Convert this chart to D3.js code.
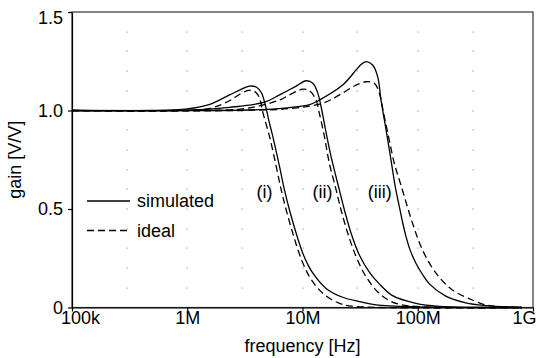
<!DOCTYPE html>
<html>
<head>
<meta charset="utf-8">
<script src="https://cdn.jsdelivr.net/npm/d3@7"></script>
<style>
  body { margin: 0; background: #fff; }
  svg { display: block; font-family: "Liberation Sans", Arial, sans-serif; }
</style>
</head>
<body>
<div id="chart"></div>
<script>
// [frequency Hz, gain V/V]
const simI = [[1e5,1.0],[4.7e5,1.0],[1.0e6,1.008],[1.57e6,1.031],[2.33e6,1.079],[3.0e6,1.11],[3.48e6,1.124],[4.0e6,1.118],[4.4e6,1.09],[4.75e6,1.03],[5.1e6,0.95],[5.53e6,0.867],[6.32e6,0.715],[6.98e6,0.596],[7.71e6,0.495],[8.81e6,0.377],[1.006e7,0.275],[1.104e7,0.222],[1.23e7,0.174],[1.6e7,0.097],[2.23e7,0.052],[3.12e7,0.03],[4.35e7,0.013],[1e8,0.003],[8e8,0]];
const idealI = [[1e5,1.0],[7e5,1.0],[1.57e6,1.011],[2.33e6,1.05],[2.9e6,1.085],[3.4e6,1.102],[3.8e6,1.098],[4.1e6,1.079],[4.35e6,1.04],[4.53e6,0.99],[5.18e6,0.867],[5.92e6,0.715],[6.54e6,0.596],[7.22e6,0.495],[8.24e6,0.377],[9.42e6,0.27],[1.15e7,0.156],[1.5e7,0.072],[2.09e7,0.021],[2.92e7,0.005],[8e8,0]];
const simII = [[1e5,1.0],[8.6e5,1.0],[2.33e6,1.016],[4.69e6,1.042],[6.32e6,1.079],[8.81e6,1.124],[1.077e7,1.151],[1.23e7,1.138],[1.36e7,1.087],[1.45e7,1.019],[1.6e7,0.89],[1.77e7,0.766],[2.09e7,0.596],[2.31e7,0.495],[2.64e7,0.377],[3.12e7,0.265],[3.8e7,0.18],[4.64e7,0.12],[6.05e7,0.06],[9.64e7,0.021],[1.53e8,0.006],[8e8,0]];
const idealII = [[1e5,1.0],[1.28e6,1.0],[3.26e6,1.011],[6.32e6,1.053],[7.71e6,1.079],[1.006e7,1.108],[1.15e7,1.1],[1.31e7,1.053],[1.4e7,0.986],[1.55e7,0.867],[1.71e7,0.732],[1.96e7,0.596],[2.16e7,0.495],[2.47e7,0.377],[2.92e7,0.258],[3.56e7,0.156],[4.49e7,0.08],[5.9e7,0.03],[8.44e7,0.008],[8e8,0]];
const simIII = [[1e5,1.0],[1.91e6,1.0],[4.85e6,1.006],[7.71e6,1.015],[1.15e7,1.03],[1.4e7,1.053],[2.23e7,1.129],[2.92e7,1.206],[3.2e7,1.232],[3.56e7,1.248],[4.06e7,1.231],[4.49e7,1.172],[4.8e7,1.053],[5.31e7,0.901],[5.86e7,0.749],[6.38e7,0.613],[6.92e7,0.512],[7.34e7,0.44],[7.91e7,0.36],[8.61e7,0.29],[9.64e7,0.225],[1.094e8,0.17],[1.26e8,0.12],[1.75e8,0.058],[2.61e8,0.024],[3.89e8,0.01],[8e8,0]];
const idealIII = [[1e5,1.0],[2.85e6,1.0],[7.71e6,1.01],[1.5e7,1.037],[2.09e7,1.079],[2.92e7,1.129],[3.56e7,1.146],[4.2e7,1.138],[4.64e7,1.087],[5.13e7,0.969],[5.66e7,0.85],[6.26e7,0.732],[7.16e7,0.62],[9.02e7,0.427],[1.1e8,0.292],[1.44e8,0.174],[2.0e8,0.089],[2.98e8,0.038],[3.89e8,0.013],[5.08e8,0.004],[8e8,0]];

const xTicks = [1e5, 1e6, 1e7, 1e8, 1e9];
const xTickLabels = ["100k", "1M", "10M", "100M", "1G"];
const yTicks = [0, 0.5, 1.0, 1.5];
const yTickLabels = ["0", "0.5", "1.0", "1.5"];
const gridX = [3e5, 1e6, 3e6, 1e7, 3e7, 1e8, 3e8];
const gridY = [0.1, 0.2, 0.3, 0.4, 0.5, 0.6, 0.7, 0.8, 0.9, 1.0, 1.1, 1.2, 1.3, 1.4];
const curveLabels = [["(i)", 4.69e6], ["(ii)", 1.49e7], ["(iii)", 4.69e7]];
const curveLabelGain = 0.556;

const width = 537, height = 358;
const margin = {top: 12, right: 4, bottom: 50.5, left: 72};
const fs = 18;

const svg = d3.select("#chart").append("svg")
    .attr("width", width)
    .attr("height", height);

const x = d3.scaleLog()
    .domain([1e5, 1e9])
    .range([margin.left, width - margin.right]);
const y = d3.scaleLinear()
    .domain([0, 1.5])
    .range([height - margin.bottom, margin.top]);

// dotted grid
const dots = [];
gridX.forEach(gx => gridY.forEach(gy => dots.push([gx, gy])));
svg.append("g")
    .attr("fill", "#9a9a9a")
  .selectAll("rect")
  .data(dots)
  .enter().append("rect")
    .attr("x", d => Math.round(x(d[0])) - 0.5)
    .attr("y", d => Math.round(y(d[1])) - 0.5)
    .attr("width", 1.2)
    .attr("height", 1.2);

// frame
svg.append("rect")
    .attr("x", margin.left)
    .attr("y", margin.top)
    .attr("width", width - margin.left - margin.right)
    .attr("height", height - margin.top - margin.bottom)
    .attr("fill", "none")
    .attr("stroke", "#333")
    .attr("stroke-width", 1.2);

const line = d3.line()
    .x(d => x(d[0]))
    .y(d => y(d[1]))
    .curve(d3.curveCatmullRom.alpha(0.5));

const series = [
  {data: simI, dash: null}, {data: idealI, dash: "7,4"},
  {data: simII, dash: null}, {data: idealII, dash: "7,4"},
  {data: simIII, dash: null}, {data: idealIII, dash: "7,4"}
];

svg.append("g")
    .attr("fill", "none")
    .attr("stroke", "#000")
    .attr("stroke-width", 1.3)
  .selectAll("path")
  .data(series)
  .enter().append("path")
    .attr("stroke-dasharray", d => d.dash)
    .attr("d", d => line(d.data));

// axes
const xAxis = svg.append("g")
    .attr("transform", "translate(0," + (height - margin.bottom) + ")")
    .call(d3.axisBottom(x)
      .tickValues(xTicks)
      .tickFormat((d, i) => xTickLabels[i])
      .tickSize(4)
      .tickSizeOuter(0)
      .tickPadding(0));
xAxis.selectAll("text")
    .attr("font-size", fs)
    .attr("font-family", "Liberation Sans, Arial, sans-serif")
    .attr("fill", "#000")
    .attr("dx", (d, i) => i === 0 ? 8 : (i === xTicks.length - 1 ? -9 : 0));

const yAxis = svg.append("g")
    .attr("transform", "translate(" + margin.left + ",0)")
    .call(d3.axisLeft(y)
      .tickValues(yTicks)
      .tickFormat((d, i) => yTickLabels[i])
      .tickSize(4)
      .tickSizeOuter(0)
      .tickPadding(5));
yAxis.selectAll("text")
    .attr("font-size", fs)
    .attr("font-family", "Liberation Sans, Arial, sans-serif")
    .attr("fill", "#000")
    .attr("dy", (d, i) => i === yTicks.length - 1 ? "0.66em" : "0.32em");
svg.selectAll(".domain").attr("stroke", "#000").attr("stroke-width", 1.2);
svg.selectAll(".tick line").attr("stroke", "#000").attr("stroke-width", 1.2);

// axis titles
svg.append("text")
    .attr("x", (margin.left + width - margin.right) / 2)
    .attr("y", height - 6)
    .attr("text-anchor", "middle")
    .attr("font-size", fs)
    .text("frequency [Hz]");

svg.append("text")
    .attr("transform", "translate(21," + (margin.top + height - margin.bottom) / 2 + ") rotate(-90)")
    .attr("text-anchor", "middle")
    .attr("font-size", fs)
    .text("gain [V/V]");

// curve labels
svg.append("g")
    .attr("font-size", fs)
    .attr("text-anchor", "middle")
  .selectAll("text")
  .data(curveLabels)
  .enter().append("text")
    .attr("x", d => x(d[1]))
    .attr("y", y(curveLabelGain))
    .text(d => d[0]);

// legend
const legend = svg.append("g").attr("transform", "translate(87,201)");
const legendItems = [["simulated", null], ["ideal", "7,4"]];
legendItems.forEach((d, i) => {
  legend.append("line")
      .attr("x1", 0).attr("x2", 43)
      .attr("y1", i * 29.5).attr("y2", i * 29.5)
      .attr("stroke", "#000")
      .attr("stroke-width", 1.3)
      .attr("stroke-dasharray", d[1]);
  legend.append("text")
      .attr("x", 50)
      .attr("y", i * 29.5 + 6)
      .attr("font-size", fs)
      .text(d[0]);
});
</script>
</body>
</html>
